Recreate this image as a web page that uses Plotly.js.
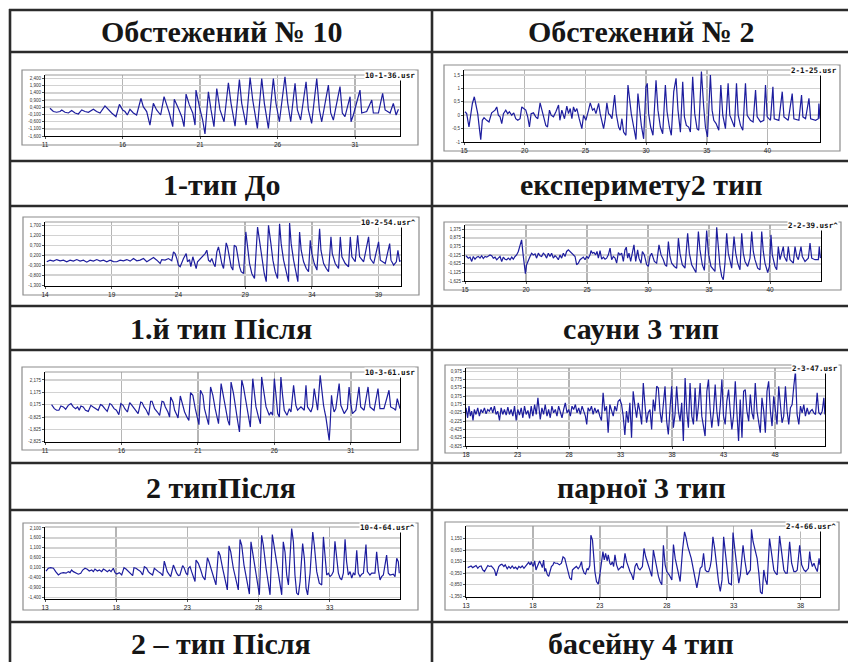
<!DOCTYPE html>
<html><head><meta charset="utf-8">
<script src="https://cdn.plot.ly/plotly-3.0.1.min.js"></script>
<style>body{margin:0;background:#fff}#c{width:848px;height:662px}</style>
</head><body><div id="c"></div>
<script>
// ---------- data (time in s, signal value) ----------
const t1=[11.32,11.54,11.75,11.97,12.08,12.29,12.51,12.72,12.94,13.15,13.37,13.58,13.80,14.12,14.33,14.55,14.87,15.09,15.30,15.58,15.80,16.01,16.16,16.31,16.48,16.70,16.91,17.19,17.34,17.56,17.77,17.99,18.20,18.46,18.68,18.85,19.02,19.24,19.34,19.60,19.82,19.97,20.10,20.31,20.53,20.68,20.74,20.96,21.17,21.32,21.54,21.71,21.90,22.08,22.29,22.55,22.83,23.00,23.26,23.54,23.69,23.97,24.23,24.40,24.70,24.98,25.15,25.41,25.73,25.90,26.12,26.48,26.66,26.85,27.13,27.28,27.49,27.84,27.99,28.20,28.53,28.70,28.85,29.28,29.43,29.60,30.03,30.18,30.35,30.68,30.74,30.89,31.32,31.43,31.75,32.08,32.18,32.51,32.78,32.94,33.26,33.47,33.65,33.80];
const v1=[0.33,0.10,0.05,0.10,0.21,0.05,0.00,0.17,0.00,-0.07,0.21,0.10,0.05,0.26,0.10,0.00,0.49,0.21,0.00,-0.26,0.60,0.21,0.10,-0.14,0.26,0.00,-0.14,1.02,0.44,0.10,-0.84,0.67,0.21,-0.14,1.13,0.56,0.00,-0.95,0.95,0.33,-0.26,-0.95,1.31,0.56,0.00,-0.84,1.59,0.44,-0.49,-1.46,1.47,0.21,-0.95,1.70,0.21,-0.61,2.10,0.67,-0.91,2.33,0.67,-0.84,2.47,0.90,-1.07,2.40,0.67,-1.07,2.40,0.67,-0.61,2.52,0.67,-0.61,2.06,0.21,-0.49,2.17,0.21,-0.72,2.40,0.21,-0.61,1.94,0.00,-0.49,1.83,0.00,-0.26,1.13,-0.61,-0.14,1.59,0.00,0.10,0.90,0.00,0.00,1.36,0.21,0.00,0.67,-0.14,0.26];

const t2=[15.08,15.22,15.41,15.55,15.69,15.85,15.99,16.13,16.27,16.38,16.51,16.65,16.87,17.06,17.28,17.42,17.56,17.70,17.83,17.97,18.11,18.25,18.44,18.60,18.74,18.93,19.10,19.26,19.43,19.62,19.76,19.92,20.09,20.25,20.39,20.53,20.72,20.91,21.08,21.27,21.41,21.58,21.74,21.88,22.04,22.18,22.37,22.57,22.79,22.90,23.06,23.28,23.47,23.61,23.75,23.89,24.02,24.16,24.30,24.49,24.71,24.85,25.04,25.26,25.40,25.59,25.73,25.87,26.09,26.22,26.36,26.50,26.64,26.77,26.91,27.05,27.19,27.41,27.54,27.74,27.87,28.01,28.15,28.34,28.51,28.65,28.78,28.98,29.17,29.33,29.44,29.61,29.80,29.99,30.10,30.21,30.38,30.57,30.82,30.98,31.18,31.37,31.59,31.73,31.92,32.08,32.28,32.47,32.63,32.83,33.02,33.16,33.32,33.51,33.65,33.84,34.01,34.20,34.34,34.56,34.75,34.89,35.06,35.30,35.44,35.58,35.77,35.99,36.16,36.32,36.54,36.76,36.90,37.09,37.28,37.45,37.59,37.78,37.97,38.19,38.33,38.60,38.82,39.02,39.15,39.43,39.70,39.84,39.98,40.25,40.45,40.56,40.94,41.22,41.36,41.71,42.04,42.18,42.59,42.81,42.92,43.14,43.42,43.56,43.97,44.19,44.24,44.33];
const v2=[0.13,0.06,-0.44,0,0.44,0.69,0.38,0.06,-0.5,-0.91,-0.19,-0.09,-0.19,-0.25,0.09,0.13,0.19,0.31,0,-0.06,-0.31,0.06,0.19,0.06,0.13,0,0.09,-0.13,-0.19,-0.13,0.31,0.25,0.19,-0.06,-0.44,0.06,0.09,-0.06,-0.13,0.46,0.19,-0.19,-0.38,-0.44,0.19,0,-0.06,0.13,0.38,-0.19,0.19,-0.13,0.34,0.06,0.25,-0.13,0.31,0.13,0.25,-0.13,-0.5,0,-0.19,0.19,0.46,0.19,0.25,0.06,0.44,0.06,-0.25,-0.5,-0.13,0.46,0.06,0,-0.13,0.75,0.06,-0.44,-0.56,-0.13,-0.63,-0.75,1.13,0.44,0.06,-0.44,-0.91,0.81,0.31,-0.38,-0.88,1.06,1.19,0.06,-0.44,-0.75,1.31,0.19,-0.44,-0.69,1.13,0.13,-0.44,-0.75,0.88,1.38,0.19,-0.63,1.25,-0.06,-0.38,-0.44,-0.63,1.44,0.06,-0.5,-0.56,1.63,0.31,-0.44,-0.81,1.5,0.19,-0.19,-0.31,-0.56,1.13,0,-0.5,1.19,0,-0.19,-0.44,1.19,0,-0.38,-0.56,1.19,0,-0.19,-0.25,0.94,-0.06,-0.25,-0.19,1.13,-0.06,-0.19,1.06,-0.13,-0.19,0.88,-0.06,-0.19,0.81,-0.13,-0.19,0.75,-0.06,-0.13,0.63,-0.13,-0.19,-0.13,0.44,-0.13];

const t3=[14.13,14.38,14.63,14.88,15.13,15.38,15.63,15.88,16.13,16.38,16.63,16.88,17.13,17.38,17.63,17.88,18.13,18.38,18.63,18.88,19.13,19.38,19.63,19.88,20.13,20.38,20.63,20.88,21.13,21.38,21.63,21.88,22.13,22.38,22.63,22.75,23.00,23.25,23.50,23.63,23.75,23.88,24.00,24.13,24.25,24.38,24.58,24.68,24.83,24.93,25.08,25.18,25.33,25.43,25.63,25.83,26.00,26.13,26.25,26.38,26.50,26.63,26.75,26.88,27.00,27.13,27.25,27.38,27.58,27.68,27.83,27.95,28.08,28.18,28.33,28.43,28.58,28.70,28.88,29.05,29.18,29.33,29.50,29.70,29.93,30.08,30.25,30.43,30.58,30.75,30.93,31.08,31.25,31.43,31.58,31.70,31.88,32.08,32.25,32.33,32.45,32.63,32.78,32.95,33.08,33.20,33.38,33.58,33.75,33.88,34.00,34.18,34.38,34.58,34.68,34.88,35.08,35.25,35.43,35.53,35.75,36.00,36.13,36.25,36.50,36.75,36.88,37.00,37.25,37.43,37.58,37.88,38.25,38.38,38.63,39.00,39.13,39.50,39.83,39.93,40.13,40.33,40.45,40.58,40.63];
const v3=[-0.13,-0.05,-0.10,-0.02,-0.08,-0.05,-0.13,-0.05,-0.10,-0.02,-0.10,-0.05,-0.15,-0.05,-0.10,-0.02,-0.10,-0.05,-0.13,-0.05,-0.12,-0.13,-0.05,-0.08,-0.02,-0.10,0.03,-0.08,-0.05,0.03,-0.13,-0.02,0.08,-0.05,-0.22,-0.02,-0.05,0.03,-0.08,0.37,0.28,0.03,-0.30,-0.38,-0.13,0.03,0.28,-0.13,-0.02,-0.38,0.12,-0.13,-0.47,-0.13,0.03,0.20,0.28,0.45,-0.05,-0.13,0.03,-0.22,-0.38,0.37,0.62,0.20,-0.22,-0.47,0.82,0.62,0.12,-0.38,-0.55,0.70,0.62,0.12,-0.38,-0.63,-0.72,1.37,0.45,-0.22,-0.72,-0.97,1.62,0.95,-0.05,-0.72,-1.13,1.70,0.78,-0.05,-0.63,-0.97,1.78,0.78,-0.05,-0.63,-1.13,1.82,0.78,-0.05,-0.55,-1.13,1.37,0.45,-0.13,-0.47,-0.63,0.95,0.28,-0.22,-0.55,1.53,0.45,-0.22,-0.47,-0.63,1.12,0.28,-0.22,-0.47,1.12,0.12,-0.22,-0.38,1.12,0.12,-0.13,1.20,0.12,-0.13,1.12,0.03,-0.22,0.87,-0.05,-0.22,0.78,-0.05,-0.30,-0.13,0.45,-0.13,-0.05];

const t4=[15.08,15.27,15.41,15.55,15.68,15.82,15.96,16.09,16.23,16.37,16.50,16.64,16.78,16.91,17.05,17.19,17.32,17.46,17.60,17.73,17.87,18.01,18.14,18.28,18.42,18.55,18.69,18.83,18.96,19.10,19.23,19.37,19.51,19.64,19.75,19.86,19.95,20.05,20.19,20.33,20.46,20.60,20.74,20.87,21.01,21.15,21.28,21.42,21.56,21.69,21.83,21.97,22.10,22.24,22.38,22.51,22.65,22.79,22.92,23.06,23.20,23.33,23.47,23.61,23.74,23.88,24.02,24.15,24.29,24.43,24.56,24.70,24.84,24.97,25.11,25.25,25.33,25.44,25.57,25.71,25.82,25.93,26.07,26.20,26.34,26.48,26.61,26.75,26.89,27.02,27.16,27.30,27.43,27.57,27.70,27.84,27.98,28.11,28.22,28.33,28.44,28.58,28.74,28.85,28.99,29.15,29.26,29.43,29.54,29.70,29.89,30.03,30.16,30.30,30.52,30.71,30.90,31.07,31.26,31.39,31.53,31.67,31.80,31.94,32.16,32.35,32.49,32.62,32.81,33.03,33.25,33.39,33.58,33.77,33.93,34.13,34.26,34.45,34.62,34.81,34.95,35.16,35.36,35.49,35.63,35.77,35.90,36.04,36.17,36.31,36.45,36.58,36.72,36.86,37.05,37.19,37.35,37.54,37.68,37.81,37.95,38.17,38.36,38.50,38.63,38.77,38.99,39.18,39.32,39.45,39.59,39.81,39.95,40.08,40.19,40.41,40.55,40.68,40.82,40.96,41.09,41.17,41.37,41.50,41.64,41.91,42.05,42.19,42.32,42.54,42.65,42.87,43.14,43.28,43.42,43.69,43.96,44.04,44.13];
const v4=[-0.16,-0.30,-0.24,-0.49,-0.20,-0.36,-0.24,-0.20,-0.30,-0.16,-0.32,-0.20,-0.24,-0.16,-0.11,-0.16,-0.30,-0.24,-0.39,-0.30,-0.20,-0.49,-0.24,-0.36,-0.39,-0.30,-0.39,-0.24,-0.36,-0.20,-0.11,0.09,0.375,0.76,-0.01,-0.88,-1.20,-0.68,-0.39,-0.20,-0.01,-0.11,-0.05,-0.30,-0.01,-0.16,-0.20,-0.01,-0.11,-0.30,-0.01,-0.20,-0.01,-0.30,-0.16,-0.24,-0.39,-0.11,-0.30,-0.01,-0.20,0.09,0.18,0.09,-0.01,-0.11,-0.20,-0.68,-0.59,-0.39,-0.30,-0.24,-0.39,-0.20,-0.30,-0.11,0.14,-0.01,0.03,-0.11,0.09,-0.30,0.14,-0.36,-0.24,-0.36,-0.30,-0.11,0.28,-0.39,-0.20,-0.30,-0.59,0.03,-0.11,-0.01,-0.49,0.18,0.34,-0.30,-0.01,-0.49,0.09,0.47,-0.49,0.18,-0.30,-0.59,0.09,-0.11,-0.68,-0.78,-0.20,-0.01,-0.49,-0.59,0.47,-0.11,-0.39,-0.68,-0.78,0.66,-0.20,-0.59,-0.78,-0.88,0.86,-0.01,-0.68,-0.88,1.14,-0.01,-0.68,-0.97,-1.13,1.24,0.18,-0.68,-1.01,1.30,-0.01,-0.78,-0.97,-1.07,1.49,0.18,-0.78,-1.36,-1.55,-0.59,1.14,-0.01,-0.49,-0.88,0.95,-0.01,-0.59,-0.97,1.14,-0.01,-0.49,-0.78,-0.30,1.24,0.09,-0.39,-0.88,-0.97,1.24,0.09,-0.59,-1.13,-0.78,1.05,-0.11,-0.78,-0.97,0.375,-0.39,-0.01,0.375,-0.20,-0.49,0.375,-0.39,-0.59,0.375,-0.20,-0.39,0.375,-0.20,-0.49,-0.30,0.57,-0.30,-0.39,-0.39,0.375,-0.30];

const t5=[11.43,11.61,11.76,11.91,12.04,12.20,12.35,12.52,12.70,12.85,13.00,13.13,13.24,13.35,13.50,13.65,13.83,14.00,14.15,14.30,14.48,14.63,14.74,14.91,15.07,15.24,15.35,15.52,15.67,15.83,15.96,16.11,16.22,16.39,16.54,16.65,16.83,16.98,17.09,17.26,17.35,17.48,17.63,17.78,17.91,18.00,18.17,18.35,18.50,18.65,18.76,18.87,19.04,19.15,19.22,19.37,19.48,19.63,19.70,19.85,19.96,20.13,20.28,20.41,20.52,20.67,20.83,20.96,21.07,21.17,21.33,21.43,21.59,21.70,21.83,21.98,22.13,22.26,22.35,22.52,22.63,22.78,22.96,23.07,23.17,23.33,23.46,23.61,23.72,23.87,23.98,24.15,24.30,24.43,24.59,24.65,24.80,24.96,25.09,25.17,25.30,25.46,25.67,25.78,25.89,26.00,26.11,26.22,26.33,26.43,26.54,26.65,26.83,26.98,27.09,27.26,27.41,27.52,27.74,27.96,28.07,28.17,28.39,28.50,28.61,28.72,28.83,29.00,29.09,29.22,29.30,29.37,29.48,29.59,29.65,29.74,29.80,29.91,30.02,30.24,30.35,30.57,30.78,30.89,31.00,31.11,31.33,31.54,31.65,31.87,32.13,32.26,32.52,32.78,32.91,33.17,33.50,33.61,33.83,33.93,34.04,34.15,34.22];
const v5=[0.18,-0.15,-0.28,-0.28,0.07,-0.01,-0.20,0.12,0.26,-0.01,-0.15,-0.01,-0.28,0.07,-0.01,-0.28,-0.37,0.12,-0.01,-0.15,-0.28,0.18,0.12,-0.15,-0.37,0.26,0.18,-0.15,-0.28,-0.64,0.26,0.12,-0.15,-0.42,0.34,0.18,-0.15,-0.37,-0.55,0.39,0.34,-0.01,-0.28,-0.69,0.45,0.45,-0.15,-0.42,-0.69,0.45,0.39,-0.01,-0.42,-0.82,0.80,0.39,-0.28,-0.69,-0.91,0.88,0.39,-0.42,-0.82,-1.10,1.15,0.93,-0.15,-0.82,-1.45,1.34,0.93,-0.15,-0.96,-1.45,1.61,0.93,-0.15,-0.96,-1.37,1.88,1.07,-0.01,-1.10,-1.50,2.01,1.07,-0.15,-1.23,-2.04,2.15,1.61,0.39,-0.96,-1.64,2.28,1.47,-0.01,-0.82,-1.37,2.42,1.20,-0.01,-0.69,-0.42,-0.69,2.28,0.93,-0.55,-0.82,2.42,0.93,-0.28,-0.69,-0.15,-0.42,1.74,0.12,-0.28,-0.01,-0.28,1.74,-0.01,-0.42,-0.01,1.47,0.39,-0.28,2.55,1.47,0.12,-0.42,-0.82,-1.77,-2.72,-1.50,0.93,0.26,-0.42,-0.15,1.88,0.12,-0.55,-0.15,1.61,0.26,-0.55,-0.28,1.61,-0.01,-0.28,1.61,-0.01,-0.28,1.47,-0.15,-0.15,1.34,-0.01,-0.15,-0.28,0.66,-0.01,-0.15];

const t6=[18.00,18.16,18.29,18.42,18.55,18.68,18.81,18.97,19.14,19.30,19.46,19.62,19.79,19.95,20.11,20.27,20.44,20.60,20.76,20.92,21.08,21.25,21.41,21.57,21.73,21.90,22.06,22.22,22.38,22.55,22.71,22.87,23.03,23.19,23.36,23.52,23.68,23.84,24.01,24.17,24.33,24.49,24.66,24.82,24.98,25.08,25.21,25.37,25.53,25.69,25.86,26.02,26.18,26.34,26.51,26.67,26.83,26.99,27.16,27.32,27.48,27.64,27.81,27.97,28.13,28.29,28.45,28.62,28.78,28.94,29.10,29.27,29.43,29.59,29.72,29.85,30.01,30.18,30.34,30.50,30.66,30.82,30.99,31.15,31.31,31.47,31.64,31.80,31.96,32.12,32.29,32.45,32.61,32.77,32.94,33.10,33.26,33.42,33.58,33.75,33.91,34.07,34.23,34.40,34.56,34.72,34.88,35.05,35.21,35.37,35.53,35.69,35.86,36.02,36.18,36.34,36.51,36.67,36.83,36.99,37.16,37.32,37.48,37.64,37.81,37.97,38.13,38.29,38.45,38.62,38.78,38.94,39.10,39.27,39.43,39.59,39.75,39.92,40.08,40.24,40.40,40.56,40.73,40.89,41.05,41.21,41.38,41.54,41.70,41.86,42.03,42.19,42.35,42.51,42.68,42.84,43.00,43.16,43.32,43.49,43.65,43.81,43.97,44.14,44.30,44.46,44.62,44.79,44.95,45.11,45.27,45.44,45.60,45.76,45.92,46.08,46.25,46.41,46.57,46.73,46.90,47.06,47.22,47.38,47.55,47.71,47.87,48.03,48.19,48.36,48.52,48.68,48.84,49.01,49.17,49.33,49.49,49.66,49.82,49.98,50.14,50.31,50.47,50.63,50.79,50.95,51.12,51.28,51.44,51.60,51.77,51.93,52.09,52.25,52.42,52.58,52.74,52.84];
const v6=[0.095,-0.145,0.135,-0.105,0.015,-0.209,0.055,-0.065,0.095,-0.105,0.055,-0.025,0.095,-0.049,0.055,0.015,0.111,-0.025,0.135,-0.065,0.015,-0.209,0.095,-0.065,0.055,-0.081,0.111,-0.065,0.055,-0.105,0.135,-0.209,0.055,-0.081,0.095,-0.145,0.135,-0.065,0.031,-0.161,0.135,-0.105,0.175,-0.065,0.335,0.015,-0.185,0.095,-0.065,0.175,-0.105,0.055,-0.145,0.135,-0.025,0.055,-0.105,0.135,0.015,-0.145,0.055,0.215,-0.025,0.055,-0.105,0.135,0.055,0.175,-0.025,0.095,-0.065,0.135,0.015,-0.105,-0.305,0.095,0.015,0.135,-0.065,0.095,-0.025,0.055,-0.105,-0.209,0.455,0.015,0.135,-0.505,0.175,0.055,-0.105,0.135,0.015,0.255,0.295,0.175,-0.105,-0.561,0.015,-0.265,0.215,-0.625,0.495,0.135,-0.145,0.215,0.015,-0.305,0.695,0.175,-0.265,-0.025,0.055,-0.425,0.295,0.015,0.615,0.575,0.015,-0.265,0.175,0.615,-0.225,-0.545,0.095,0.615,-0.385,-0.065,0.615,0.015,-0.225,0.215,-0.705,0.815,0.015,-0.385,0.695,-0.105,-0.305,0.575,-0.225,0.135,0.695,-0.105,-0.345,-0.585,0.495,0.775,0.055,-0.385,0.015,0.655,0.015,-0.345,0.135,0.775,-0.105,-0.305,0.255,0.535,0.015,-0.425,-0.105,0.735,-0.025,-0.705,0.295,-0.625,0.495,0.535,0.015,-0.225,0.415,-0.025,-0.185,0.695,0.015,-0.265,-0.505,0.335,0.015,-0.505,0.495,0.735,0.015,-0.345,0.375,0.055,-0.305,0.615,0.215,-0.265,-0.105,0.615,0.015,-0.305,0.095,0.175,0.615,0.975,-0.065,-0.305,0.135,-0.025,0.175,-0.105,0.095,-0.065,0.015,0.055,-0.025,-0.065,0.455,-0.025,-0.065,0.015,0.335,-0.065];

const t7=[13.07,13.23,13.40,13.59,13.75,13.94,14.10,14.29,14.48,14.64,14.76,14.87,14.99,15.15,15.34,15.51,15.65,15.81,15.97,16.11,16.28,16.40,16.51,16.68,16.82,16.98,17.10,17.22,17.38,17.52,17.64,17.80,17.92,18.04,18.22,18.39,18.55,18.69,18.85,18.97,19.16,19.25,19.39,19.56,19.72,19.86,19.98,20.14,20.26,20.38,20.56,20.68,20.80,20.96,21.13,21.27,21.38,21.50,21.59,21.74,21.83,22.02,22.13,22.25,22.37,22.48,22.67,22.77,22.91,23.02,23.07,23.19,23.30,23.42,23.54,23.61,23.77,23.94,24.08,24.24,24.41,24.52,24.71,24.87,25.01,25.18,25.30,25.48,25.65,25.81,25.93,26.05,26.23,26.42,26.58,26.70,26.82,26.98,27.17,27.36,27.47,27.59,27.75,27.92,28.06,28.22,28.34,28.53,28.69,28.81,28.97,29.09,29.28,29.46,29.63,29.74,29.86,29.98,30.10,30.33,30.45,30.56,30.68,30.80,30.92,31.10,31.22,31.34,31.45,31.62,31.81,31.92,32.09,32.27,32.44,32.56,32.67,32.79,32.91,33.02,33.14,33.26,33.37,33.49,33.61,33.73,33.84,33.96,34.08,34.19,34.31,34.43,34.55,34.66,34.78,34.90,35.01,35.13,35.25,35.37,35.55,35.65,35.83,35.95,36.18,36.30,36.42,36.54,36.65,36.77,37.00,37.12,37.24,37.47,37.59,37.71,37.82,37.89];
const v7=[-0.07,0.07,0.10,0.07,-0.10,-0.27,-0.18,-0.15,-0.18,-0.10,-0.15,-0.02,-0.10,-0.18,-0.23,-0.18,-0.02,0.07,0.02,-0.07,-0.02,-0.10,0.03,-0.07,-0.02,-0.10,0.03,-0.02,-0.10,-0.02,-0.10,0.07,-0.15,-0.22,-0.15,-0.27,0.10,0.03,-0.10,-0.18,-0.30,0.10,0.07,-0.02,-0.10,-0.27,0.15,0.07,-0.10,-0.18,-0.27,0.07,-0.02,-0.10,-0.18,-0.30,0.43,0.07,-0.10,-0.27,-0.35,0.23,-0.02,-0.18,-0.30,-0.27,0.20,0.10,-0.18,-0.27,0.07,0.15,-0.10,-0.35,-0.60,0.48,0.32,-0.02,-0.35,-0.52,0.60,0.40,-0.02,-0.35,-0.77,0.93,0.73,0.07,-0.52,-1.02,1.20,0.90,0.07,-0.60,-1.02,1.52,1.23,0.23,-0.52,-1.23,1.40,0.90,0.07,-0.68,-1.27,1.73,1.23,0.07,-0.77,-1.27,1.77,1.23,0.15,-0.60,-1.27,1.40,0.90,-0.27,-0.77,2.07,1.40,-0.27,-1.18,-1.27,-0.60,1.32,0.57,-0.93,-1.27,-0.18,1.90,1.23,-0.10,-0.68,-0.77,1.65,0.73,-0.27,-0.18,-0.35,-0.27,-0.10,1.43,0.57,-0.18,-0.43,-0.52,-0.18,1.53,0.40,-0.27,-0.10,-0.43,-0.18,-0.27,0.98,-0.18,-0.35,-0.23,-0.18,1.27,-0.10,-0.27,-0.18,-0.18,0.90,-0.02,-0.52,-0.35,-0.27,0.73,-0.18,-0.27,-0.23,-0.35,0.57,0.40,-0.18];

const t8=[13.13,13.25,13.38,13.50,13.63,13.75,13.88,14.00,14.13,14.25,14.38,14.50,14.63,14.75,14.88,15.00,15.13,15.25,15.33,15.45,15.58,15.68,15.83,15.93,16.08,16.20,16.33,16.45,16.58,16.70,16.83,16.95,17.08,17.20,17.33,17.45,17.58,17.68,17.80,17.88,17.95,18.03,18.13,18.23,18.33,18.43,18.50,18.63,18.70,18.80,18.88,18.95,19.08,19.18,19.28,19.38,19.50,19.58,19.68,19.83,19.98,20.13,20.25,20.38,20.50,20.63,20.75,20.88,20.95,21.08,21.25,21.38,21.50,21.63,21.70,21.83,21.93,22.05,22.13,22.25,22.33,22.45,22.55,22.63,22.75,22.88,23.00,23.13,23.23,23.33,23.43,23.55,23.63,23.75,23.83,23.93,24.03,24.13,24.25,24.38,24.50,24.63,24.75,24.88,25.00,25.13,25.25,25.38,25.50,25.63,25.75,25.88,26.00,26.18,26.30,26.43,26.58,26.75,26.88,27.00,27.13,27.25,27.38,27.50,27.63,27.75,27.88,28.00,28.18,28.38,28.50,28.63,28.83,29.00,29.18,29.33,29.43,29.58,29.83,30.00,30.13,30.25,30.38,30.50,30.63,30.75,30.88,31.00,31.13,31.25,31.33,31.45,31.58,31.75,31.88,32.00,32.13,32.25,32.38,32.50,32.63,32.83,32.95,33.08,33.25,33.38,33.50,33.58,33.70,33.83,34.00,34.25,34.33,34.45,34.63,34.75,34.88,35.00,35.13,35.25,35.38,35.50,35.68,35.83,36.00,36.13,36.25,36.43,36.58,36.75,36.88,37.00,37.18,37.33,37.50,37.63,37.75,37.93,38.08,38.25,38.38,38.58,38.68,38.75,38.88,39.00,39.13,39.25,39.38,39.45];
const v8=[-0.11,-0.06,-0.04,-0.11,-0.06,-0.02,-0.14,-0.06,-0.04,-0.21,-0.28,-0.14,-0.02,-0.06,-0.04,-0.11,-0.21,-0.46,-0.28,-0.06,0.01,0.04,-0.06,0.01,-0.16,-0.06,-0.14,-0.04,-0.14,-0.09,-0.18,-0.06,-0.11,-0.04,-0.14,-0.06,0.01,0.12,0.01,0.15,0.01,-0.06,0.18,-0.21,-0.06,0.08,0.18,0.01,-0.11,0.22,-0.28,-0.14,-0.42,-0.49,-0.28,-0.06,0.01,0.12,0.08,0.08,0.01,0.08,0.36,0.29,0.01,-0.28,-0.56,-0.64,-0.21,-0.14,-0.06,-0.16,-0.06,0.15,-0.14,-0.35,-0.39,-0.14,-0.21,-0.02,1.29,1.08,0.29,-0.28,-0.71,-0.82,-0.42,0.08,0.58,0.22,0.51,0.18,0.44,0.08,0.01,0.15,-0.06,0.44,0.01,-0.21,-0.14,-0.06,-0.11,0.51,0.15,-0.14,-0.28,-0.42,-0.64,-0.06,0.08,-0.14,-0.21,-0.06,0.72,0.36,0.08,-0.28,-0.49,0.65,0.22,-0.21,-0.49,-0.71,-0.85,0.86,0.01,-0.28,-0.42,-0.64,0.89,0.29,-0.28,-0.71,0.65,1.44,1.22,0.79,0.29,-0.28,-0.64,-0.99,-0.56,-0.14,-0.06,0.51,-0.21,-0.28,-0.28,-0.06,0.22,1.22,0.72,-0.28,-0.78,-1.14,-0.64,1.22,0.58,-0.28,-0.78,-0.85,1.41,0.72,-0.21,-0.78,-0.42,0.22,0.86,0.22,-0.42,-0.21,1.55,1.01,0.51,0.29,-0.35,-1.16,-1.25,-0.21,-0.64,-0.85,1.15,0.51,-0.21,-0.35,-0.42,1.26,0.65,-0.21,-0.35,-0.35,1.01,0.08,-0.28,-0.28,-0.21,0.86,0.01,-0.21,-0.28,-0.14,0.58,0.22,-0.06,0.08,-0.14,-0.28,0.29,0.01];

// ---------- axis ticks ----------
const yTicks=[
 [-1.6,-1.1,-0.6,-0.1,0.4,0.9,1.4,1.9,2.4],
 [-1,-0.5,0,0.5,1,1.5],
 [-1.3,-0.8,-0.3,0.2,0.7,1.2,1.7],
 [-1.625,-1.125,-0.625,-0.125,0.375,0.875,1.375],
 [-2.825,-1.825,-0.825,0.175,1.175,2.175],
 [-0.825,-0.625,-0.425,-0.225,-0.025,0.175,0.375,0.575,0.775,0.975],
 [-1.4,-0.9,-0.4,0.1,0.6,1.1,1.6,2.1],
 [-1.35,-0.85,-0.35,0.15,0.65,1.15]
];
const yTickText2=["-1","-0,5","0","0,5","1","1,5"];
const xFirstTick=[11,15,14,15,11,18,13,13];
const fileLabels=["10-1-36.usr","2-1-25.usr","10-2-54.usr^","2-2-39.usr^","10-3-61.usr","2-3-47.usr","10-4-64.usr^","2-4-66.usr^"];
const headerLeft=["Обстежений № 10","1-тип До","1.й тип Після","2 типПісля","2 – тип Після"];
const headerRight=["Обстежений № 2","експеримету2 тип","сауни 3 тип","парної 3 тип","басейну 4 тип"];

const T=[t1,t2,t3,t4,t5,t6,t7,t8], V=[v1,v2,v3,v4,v5,v6,v7,v8];

// ---------- layout geometry (pixels) ----------
const W=848,H=662;
const px=x=>x/W, py=y=>1-y/H;
const geo=[
 {frame:[22,70,418,145], plot:[45,75,400,136], xr:[11,33.9],  yr:[-1.6,2.64]},
 {frame:[444,65,840,151],plot:[464,70,820,142],xr:[15,44.33], yr:[-1.0,1.69]},
 {frame:[23,217,419,295],plot:[45,222,401,286],xr:[14,40.68], yr:[-1.35,1.87]},
 {frame:[444,222,841,290],plot:[465,225,821,281],xr:[15,44.18],yr:[-1.625,1.625]},
 {frame:[22,367,418,450],plot:[45,372,400,442],xr:[11,34.22], yr:[-2.85,2.82]},
 {frame:[445,365,841,453],plot:[466,368,825,446],xr:[18,52.85],yr:[-0.825,1.055]},
 {frame:[23,523,418,610],plot:[45,527,400,599],xr:[13,37.94], yr:[-1.48,2.15]},
 {frame:[445,522,839,610],plot:[466,526,820,597],xr:[13,39.45],yr:[-1.38,1.69]}
];

const data=[], shapes=[], annotations=[];
const layout={width:W,height:H,margin:{l:0,r:0,t:0,b:0},paper_bgcolor:'#fff',plot_bgcolor:'#fff',showlegend:false};

geo.forEach((g,i)=>{
  const k=i+1, xs='x'+(k>1?k:''), ys='y'+(k>1?k:'');
  data.push({x:T[i],y:V[i],type:'scatter',mode:'lines',xaxis:xs,yaxis:ys,
    line:{color:'#1d1d9e',width:1.2},hoverinfo:'skip'});
  const [L,Tp,R,B]=g.plot;
  layout['xaxis'+(k>1?k:'')]={domain:[px(L),px(R)],range:g.xr,anchor:ys,
    tick0:xFirstTick[i],dtick:5,showgrid:true,gridcolor:'#b5b5b5',gridwidth:1.5,
    zeroline:false,showline:true,linecolor:'#000',linewidth:1,ticks:'outside',ticklen:2,tickcolor:'#555',
    tickfont:{family:'Liberation Sans, Arial',size:6.5,color:'#222'},fixedrange:true};
  const tt = i===1 ? yTickText2 : yTicks[i].map(v=>v.toFixed(3).replace('.',','));
  layout['yaxis'+(k>1?k:'')]={domain:[py(B),py(Tp)],range:g.yr,anchor:xs,
    tickvals:yTicks[i],ticktext:tt,showgrid:true,gridcolor:'#d2d2d2',gridwidth:1.5,
    zeroline:false,showline:true,mirror:true,linecolor:'#000',linewidth:1,ticks:'outside',ticklen:2,tickcolor:'#555',
    tickfont:{family:'Liberation Sans, Arial',size:4.5,color:'#333'},fixedrange:true};
  const [fx0,fy0,fx1,fy1]=g.frame;
  shapes.push({type:'rect',xref:'paper',yref:'paper',x0:px(fx0),x1:px(fx1),y0:py(fy1),y1:py(fy0),
    line:{color:'#8c8c8c',width:1.2},fillcolor:'rgba(0,0,0,0)',layer:'below'});
  shapes.push({type:'line',xref:'paper',yref:'paper',x0:px(L),x1:px(R),y0:py(Tp),y1:py(Tp),
    line:{color:'#9a9a9a',width:1},layer:'above'});
  annotations.push({xref:'paper',yref:'paper',x:px(fx1-2),y:py(Tp),xanchor:'right',yanchor:'middle',
    text:'<b>'+fileLabels[i]+'</b>',showarrow:false,bgcolor:'#fff',borderpad:0,
    font:{family:'DejaVu Sans Mono, Liberation Mono',size:7.5,color:'#111'}});
});

// table grid
const hLines=[10,52,161,206,306,350,463,510,622];
hLines.forEach(y=>shapes.push({type:'line',xref:'paper',yref:'paper',x0:px(9),x1:1,y0:py(y),y1:py(y),
  line:{color:'#2b2b2b',width:2.6}}));
[10,432].forEach(x=>shapes.push({type:'line',xref:'paper',yref:'paper',x0:px(x),x1:px(x),y0:py(9),y1:0,
  line:{color:'#2b2b2b',width:2.6}}));

const headerY=[31,184,328,487,643];
headerY.forEach((y,j)=>{
  annotations.push({xref:'paper',yref:'paper',x:px(221),y:py(y),xanchor:'center',yanchor:'middle',showarrow:false,
    text:'<b>'+headerLeft[j]+'</b>',font:{family:'Liberation Serif, Times New Roman',size:30,color:'#161616'}});
  annotations.push({xref:'paper',yref:'paper',x:px(641),y:py(y),xanchor:'center',yanchor:'middle',showarrow:false,
    text:'<b>'+headerRight[j]+'</b>',font:{family:'Liberation Serif, Times New Roman',size:30,color:'#161616'}});
});

layout.shapes=shapes; layout.annotations=annotations;
Plotly.newPlot('c',data,layout,{staticPlot:true,displayModeBar:false});
</script></body></html>
